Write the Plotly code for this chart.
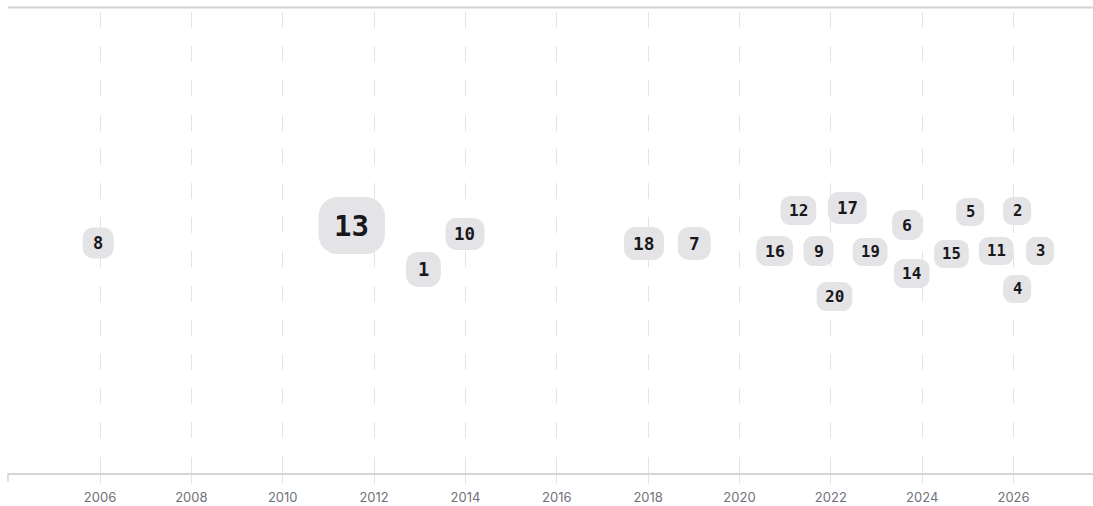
import plotly.graph_objects as go

# ---- data ----
labels = ["1", "2", "3", "4", "5", "6", "7", "8", "9", "10",
          "11", "12", "13", "14", "15", "16", "17", "18", "19", "20"]
years = [2013.08, 2026.08, 2026.58, 2026.08, 2025.05, 2023.67, 2019.01, 2005.96, 2021.73, 2013.99,
         2025.62, 2021.29, 2011.51, 2023.77, 2024.64, 2020.77, 2022.36, 2017.91, 2022.86, 2022.08]
offsets = [-27, 31.5, -8.5, -46.5, 30.5, 17.5, -1, -0.5, -8.5, 8.5,
           -8.5, 32, 17, -31, -11.5, -8.5, 34.5, -1, -9.5, -54]
scores = [7, 0, 0, 0, 0, 2, 5, 3, 2, 4, 0, 1, 30, 1, 0, 2, 4, 5, 0, 1]
tick_years = list(range(2006, 2027, 2))
x_range = [2003.985, 2027.74]
y_range = [-230.5, 230.5]

# ---- styles ----
BOX = "#e4e4e7"
TEXT = "#18181b"
GRID = "#e4e4e7"
AXIS = "#d4d4d8"
TICKTXT = "#71717a"
MONO = "DejaVu Sans Mono"
PLOT_H = 461


def rounded_rect(w, h, r):
    k = 0.5523 * r
    w2, h2 = w / 2, h / 2
    return (f"M {-w2 + r},{-h2} L {w2 - r},{-h2} "
            f"C {w2 - r + k},{-h2} {w2},{-h2 + r - k} {w2},{-h2 + r} "
            f"L {w2},{h2 - r} "
            f"C {w2},{h2 - r + k} {w2 - r + k},{h2} {w2 - r},{h2} "
            f"L {-w2 + r},{h2} "
            f"C {-w2 + r - k},{h2} {-w2},{h2 - r + k} {-w2},{h2 - r} "
            f"L {-w2},{-h2 + r} "
            f"C {-w2},{-h2 + r - k} {-w2 + r - k},{-h2} {-w2 + r},{-h2} Z")


fig = go.Figure()
# invisible trace to anchor axes
fig.add_trace(go.Scatter(x=years, y=offsets, mode="markers",
                         marker=dict(opacity=0), hoverinfo="skip", showlegend=False))

shapes = []
annotations = []
for lab, x, y, s in zip(labels, years, offsets, scores):
    f = 15.6 + 0.45 * s
    h = 2.15 * f - 5.5
    w = max(h, len(lab) * 0.6 * f + 1.15 * f - 2)
    r = 0.34 * h
    shapes.append(dict(type="path", xref="x", yref="y", xsizemode="pixel", ysizemode="pixel",
                       xanchor=x, yanchor=y, path=rounded_rect(w, h, r),
                       fillcolor=BOX, line=dict(width=0), layer="above"))
    annotations.append(dict(x=x, y=y, xref="x", yref="y", text=lab, showarrow=False,
                            font=dict(family=MONO, size=f, color=TEXT, weight="bold"),
                            xanchor="center", yanchor="middle"))

# top rule
shapes.append(dict(type="line", xref="paper", yref="paper", x0=0, x1=1,
                   y0=1 + 4.5 / PLOT_H, y1=1 + 4.5 / PLOT_H, line=dict(color=AXIS, width=2),
                   layer="below"))
# left end tick
shapes.append(dict(type="line", xref="paper", yref="paper", x0=0, x1=0,
                   y0=0, y1=-9 / PLOT_H, line=dict(color=AXIS, width=1.5), layer="below"))

fig.update_layout(
    width=1093, height=506,
    margin=dict(l=8, r=0, t=12, b=33),
    paper_bgcolor="white", plot_bgcolor="white",
    shapes=shapes, annotations=annotations,
    showlegend=False,
    xaxis=dict(range=x_range, tickvals=tick_years, ticktext=[str(t) for t in tick_years],
               showgrid=True, gridcolor=GRID, gridwidth=1, griddash="16px,18.2px",
               showline=True, linecolor=AXIS, linewidth=2,
               ticks="outside", ticklen=9, tickwidth=1, tickcolor=GRID,
               ticklabelstandoff=2,
               tickfont=dict(family="Inter", size=13, color=TICKTXT),
               zeroline=False, fixedrange=True),
    yaxis=dict(range=y_range, visible=False, showgrid=False, zeroline=False, fixedrange=True),
)

fig.write_html("out.html", config={"displayModeBar": False},
               post_script="document.body.style.margin='0';document.body.style.overflow='hidden';")
